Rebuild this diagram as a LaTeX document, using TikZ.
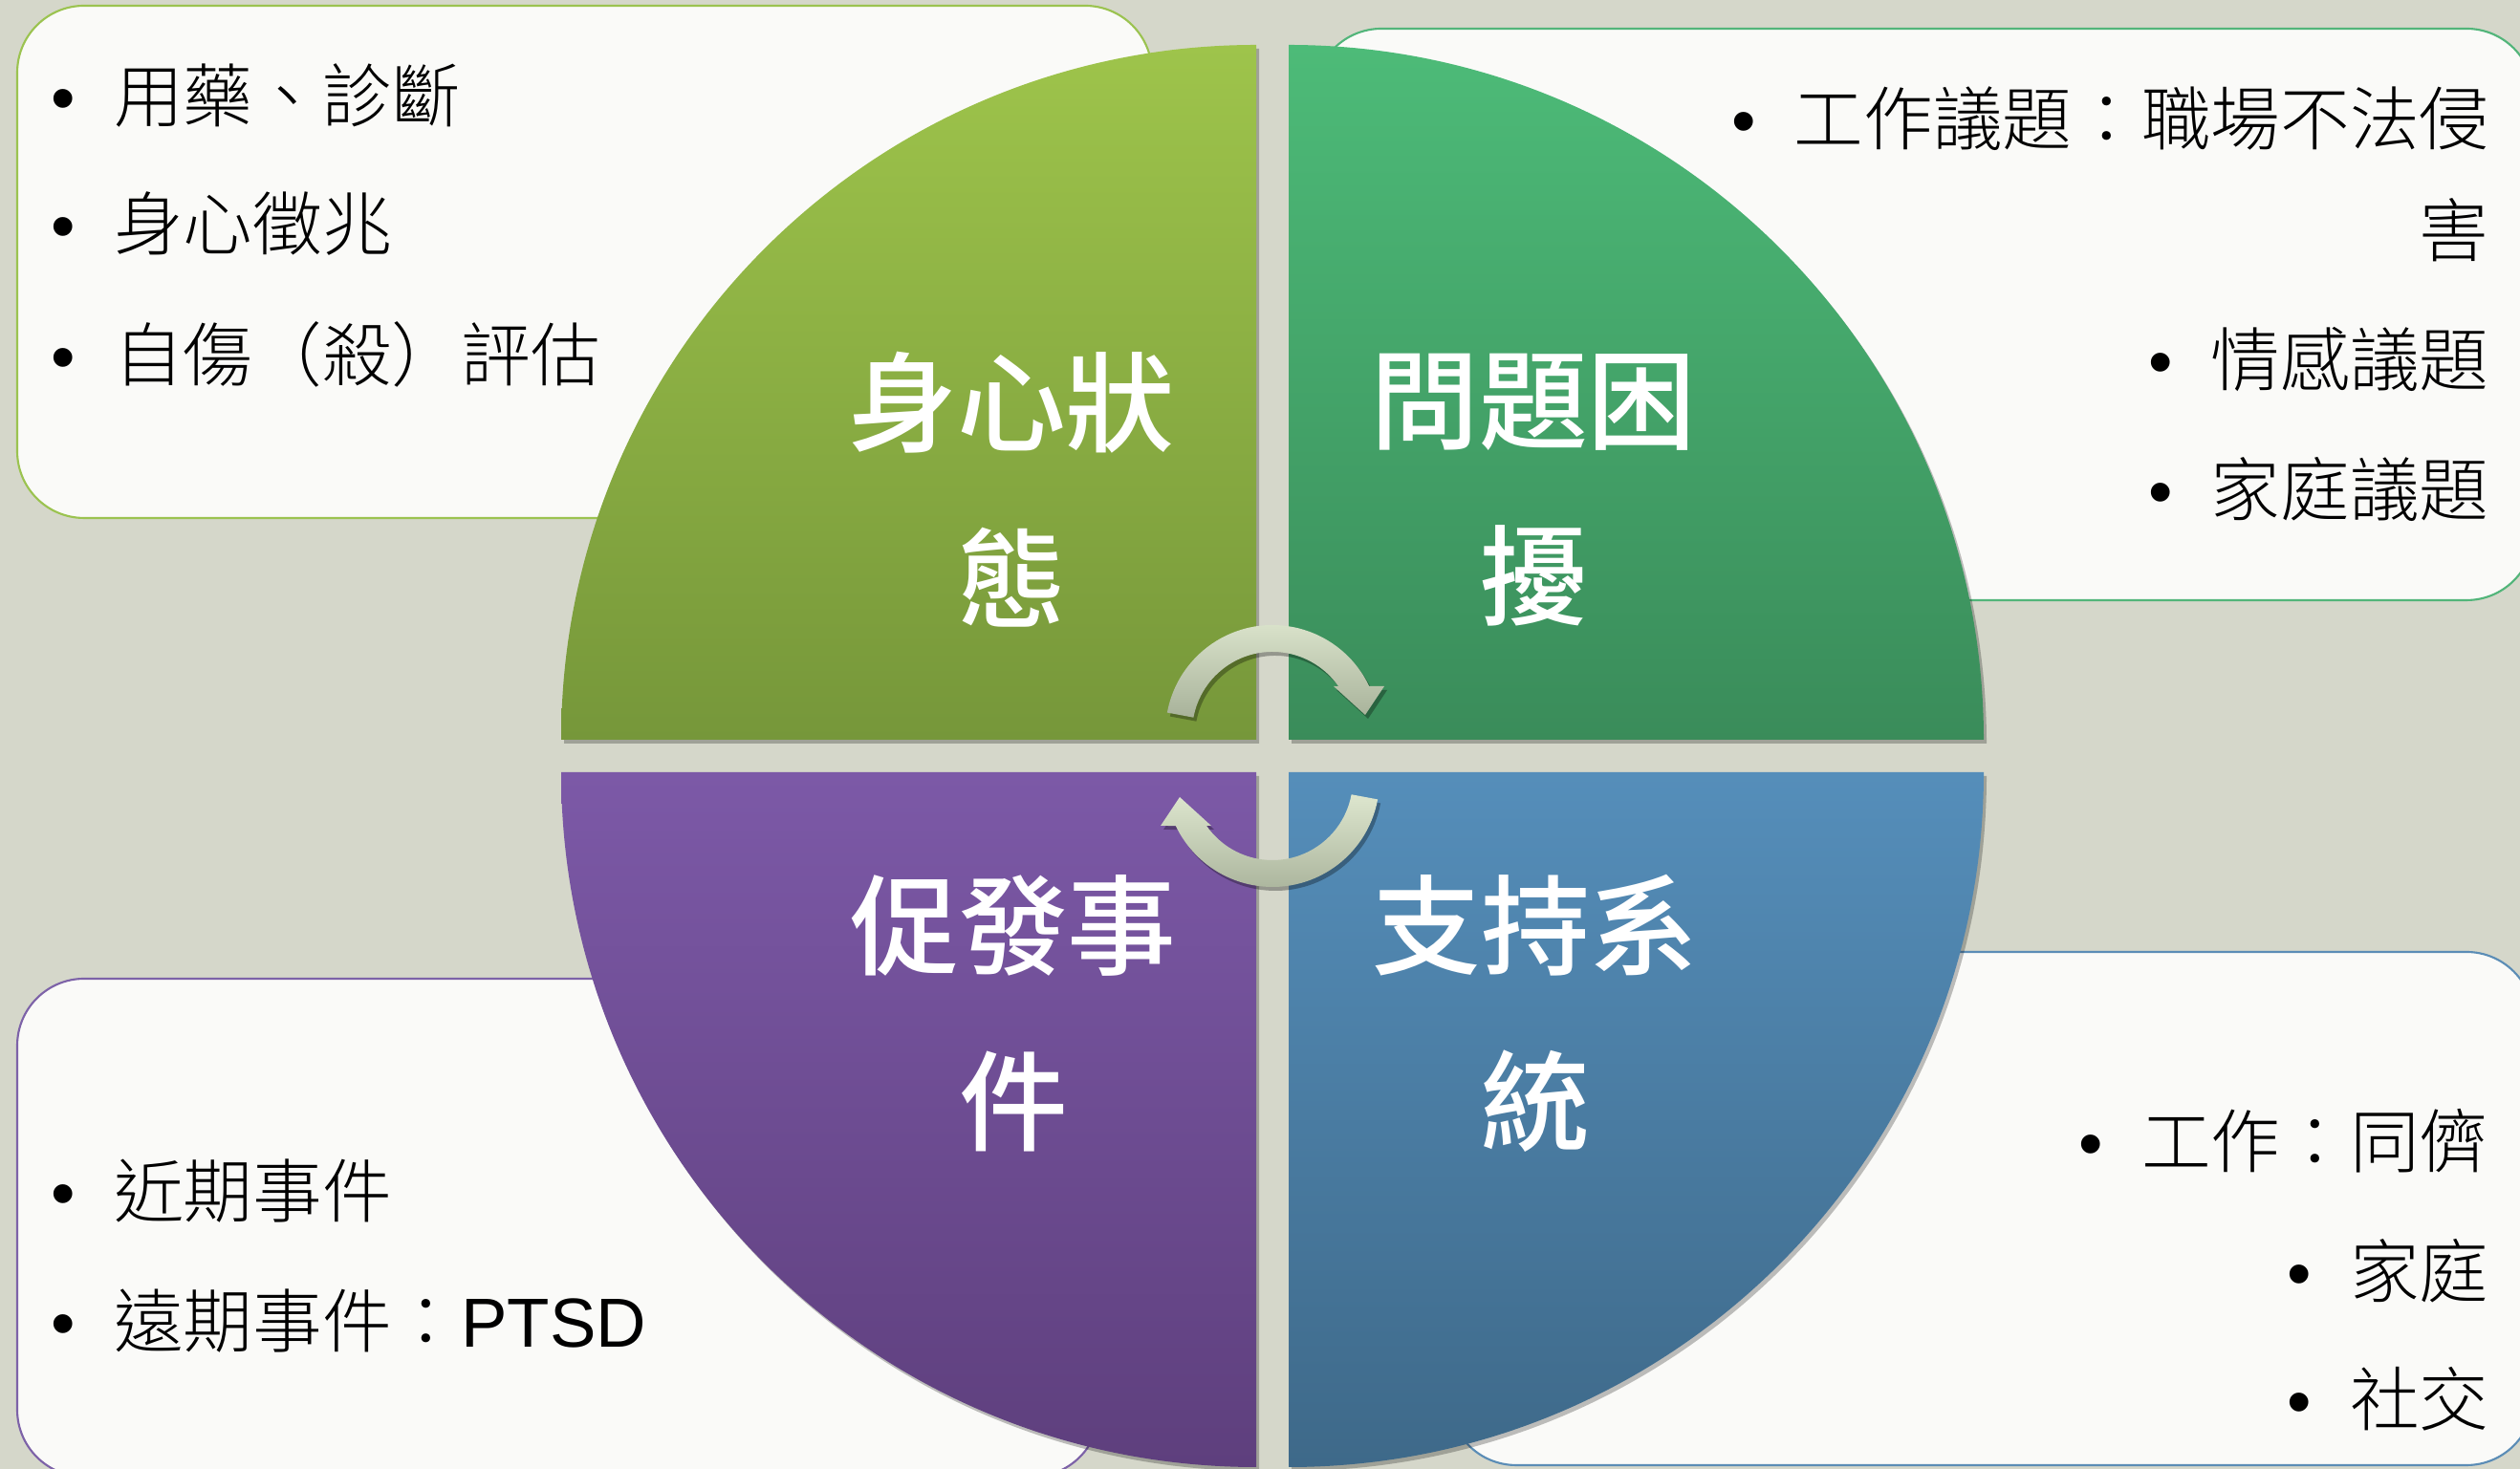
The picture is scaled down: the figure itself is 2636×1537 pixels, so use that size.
\documentclass[tikz,border=0pt]{standalone}
\usepackage{fontspec}
\newfontfamily\cjk{Noto Sans CJK TC Light}
\newfontfamily\cjkt{Noto Sans CJK TC Medium}
\newfontfamily\lat{Liberation Sans}
\usetikzlibrary{calc,shadows}
\definecolor{bg}{HTML}{D5D7CA}
\definecolor{boxfill}{HTML}{FAFAF8}
\definecolor{tlT}{HTML}{9EC44B}
\definecolor{tlB}{HTML}{76973A}
\definecolor{trT}{HTML}{4DBB78}
\definecolor{trB}{HTML}{3A8C5A}
\definecolor{blT}{HTML}{7C59A7}
\definecolor{blB}{HTML}{5E3F7D}
\definecolor{brT}{HTML}{558EBA}
\definecolor{brB}{HTML}{3E6989}
\definecolor{tlE}{HTML}{9BC350}
\definecolor{trE}{HTML}{52B57A}
\definecolor{blE}{HTML}{7D62A8}
\definecolor{brE}{HTML}{5B8DB6}
\definecolor{arrT}{HTML}{DDE6CE}
\definecolor{arrB}{HTML}{A8B29A}
\newcommand{\itembul}{{\lat •}\hspace{0.4cm}}
\begin{document}
\begin{tikzpicture}[x=0.01cm,y=0.01cm,
  box/.style={fill=boxfill, line width=0.6pt, rounded corners=0.7cm},
  quarter/.style={drop shadow={shadow xshift=0.03cm, shadow yshift=-0.04cm, opacity=0.25, fill=black}},
  arrowshape/.style={top color=arrT, bottom color=arrB, drop shadow={shadow xshift=0.03cm, shadow yshift=-0.04cm, opacity=0.3, fill=black}},
  item/.style={inner sep=0pt, text=black, font=\cjk\fontsize{20.66}{24}\selectfont},
  title/.style={inner sep=0pt, align=center, text=white, font=\cjkt\fontsize{32.35}{52.35}\selectfont}]
\useasboundingbox (0,0) rectangle (2636,1537);
\clip (0,0) rectangle (2636,1537);
\fill[bg] (0,0) rectangle (2636,1537);
% text boxes
\draw[box, draw=tlE] (18,995) rectangle (1205,1531);
\draw[box, draw=trE] (1375,909) rectangle (2650,1507);
\draw[box, draw=blE] (18,-8) rectangle (1150,513);
\draw[box, draw=brE] (1516,4) rectangle (2650,541);
% quarters
\path[quarter, top color=tlT, bottom color=tlB] (1314,763) -- (587,763) arc[start angle=180, end angle=90, radius=727] -- cycle;
\path[quarter, top color=trT, bottom color=trB] (1348,763) -- (1348,1490) arc[start angle=90, end angle=0, radius=727] -- cycle;
\path[quarter, top color=blT, bottom color=blB] (1314,729) -- (587,729) arc[start angle=180, end angle=270, radius=727] -- cycle;
\path[quarter, top color=brT, bottom color=brB] (1348,729) -- (2075,729) arc[start angle=0, end angle=-90, radius=727] -- cycle;
% circular arrows
\coordinate (c1) at (1331,771);
\coordinate (c2) at (1331,721);
\path[arrowshape] ($(c1)+(169.5:112)$) arc[start angle=169.5, end angle=25.4, radius=112]
  -- ($(c1)+(117,48)$) -- ($(c1)+(97,18)$) -- ($(c1)+(64,48)$)
  -- ($(c1)+(34.8:84)$) arc[start angle=34.8, end angle=169.5, radius=84] -- cycle;
\path[arrowshape] ($(c2)+(-10.5:112)$) arc[start angle=-10.5, end angle=-154.6, radius=112]
  -- ($(c2)+(-117,-48)$) -- ($(c2)+(-97,-18)$) -- ($(c2)+(-64,-48)$)
  -- ($(c2)+(-145.2:84)$) arc[start angle=-145.2, end angle=-10.5, radius=84] -- cycle;
% titles
\node[title] (ttl) at (1058,1025) {身心狀\\態};
\node[title] (ttr) at (1604,1024) {問題困\\擾};
\node[title] (tbl) at (1060,477) {促發事\\件};
\node[title] (tbr) at (1606,477) {支持系\\統};
% top-left items
\node[item, anchor=west] (tl1) at (53,1437) {\itembul 用藥、診斷};
\node[item, anchor=west] (tl2) at (53,1303) {\itembul 身心徵兆};
\node[item, anchor=west] (tl3) at (53,1166) {\itembul 自傷（殺）評估};
% top-right items
\node[item, anchor=east] (tr1) at (2604,1413) {\itembul 工作議題：職場不法侵};
\node[item, anchor=east] (tr2) at (2604,1296) {害};
\node[item, anchor=east] (tr3) at (2604,1161) {\itembul 情感議題};
\node[item, anchor=east] (tr4) at (2604,1025) {\itembul 家庭議題};
% bottom-left items
\node[item, anchor=west] (bl1) at (53,291) {\itembul 近期事件};
\node[item, anchor=west] (bl2) at (53,155) {\itembul 遠期事件：{\lat PTSD}};
% bottom-right items
\node[item, anchor=east] (br1) at (2604,343) {\itembul 工作：同儕};
\node[item, anchor=east] (br2) at (2604,207) {\itembul 家庭};
\node[item, anchor=east] (br3) at (2604,73) {\itembul 社交};
\end{tikzpicture}
\end{document}
